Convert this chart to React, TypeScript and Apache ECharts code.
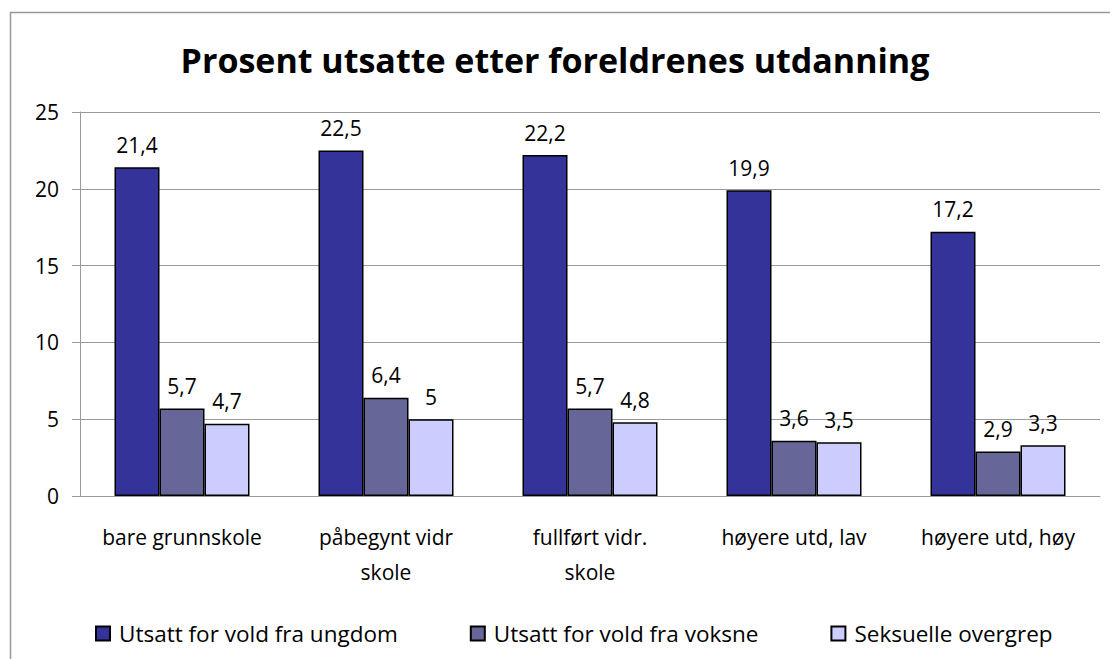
import React, { useEffect, useRef } from "react";
import * as echarts from "echarts";

const categories = ["bare grunnskole", "påbegynt vidr skole", "fullført vidr. skole", "høyere utd, lav", "høyere utd, høy"];
const seriesNames = ["Utsatt for vold fra ungdom", "Utsatt for vold fra voksne", "Seksuelle overgrep"];
const ungdom = [21.4, 22.5, 22.2, 19.9, 17.2];
const voksne = [5.7, 6.4, 5.7, 3.6, 2.9];
const overgrep = [4.7, 5, 4.8, 3.5, 3.3];
const colors = ["#333399", "#666699", "#CCCCFF"];
const FONT = "'Open Sans', Lato, sans-serif";

// wrap long category names at their last space, like the original chart does
const wrapLabel = (s: string) => {
  if (s.length <= 16) return s;
  const i = s.lastIndexOf(" ");
  return i > 0 ? s.slice(0, i) + "\n" + s.slice(i + 1) : s;
};

export default function App() {
  const ref = useRef<HTMLDivElement>(null);
  useEffect(() => {
    const chart = echarts.init(ref.current!, null, { renderer: "svg" });
    const values = [ungdom, voksne, overgrep];
    chart.setOption({
      animation: false,
      title: {
        text: "Prosent utsatte etter foreldrenes utdanning",
        left: "center",
        top: 38,
        textStyle: { fontFamily: FONT, fontWeight: "bold", fontSize: 34, color: "#000" },
      },
      graphic: [
        {
          type: "rect",
          shape: { x: 10.5, y: 12.5, width: 1200, height: 800 },
          style: { fill: "none", stroke: "#999", lineWidth: 1.5 },
          silent: true,
        },
      ],
      legend: {
        bottom: 9,
        left: 90,
        itemWidth: 14,
        itemHeight: 14,
        itemGap: 72,
        icon: "rect",
        textStyle: { fontFamily: FONT, fontSize: 22.5, color: "#000", padding: [0, 0, 0, 4] },
        data: seriesNames,
      },
      grid: { left: 80, right: 10, top: 112, bottom: 163, containLabel: false },
      xAxis: {
        type: "category",
        data: categories,
        axisLine: { lineStyle: { color: "#999" } },
        axisTick: { length: 7, lineStyle: { color: "#999" } },
        axisLabel: {
          fontFamily: FONT,
          fontSize: 21,
          color: "#000",
          margin: 23,
          lineHeight: 35,
          interval: 0,
          formatter: (v: string) => wrapLabel(v),
        },
      },
      yAxis: {
        type: "value",
        min: 0,
        max: 25,
        interval: 5,
        axisLine: { show: true, lineStyle: { color: "#999" } },
        axisTick: { show: true, length: 8, lineStyle: { color: "#999" } },
        splitLine: { lineStyle: { color: "#999" } },
        axisLabel: { fontFamily: FONT, fontSize: 21, color: "#000", margin: 21 },
      },
      series: seriesNames.map((name, i) => ({
        name,
        type: "bar",
        data: values[i],
        barWidth: 45,
        barGap: "0%",
        itemStyle: { color: colors[i], borderColor: "#000", borderWidth: 1.5 },
        label: {
          show: true,
          position: "top",
          distance: 12,
          fontFamily: FONT,
          fontSize: 21,
          color: "#000",
          formatter: (p: any) => String(p.value).replace(".", ","),
        },
      })),
    });
    return () => chart.dispose();
  }, []);
  return (
    <div
      ref={ref}
      style={{ position: "absolute", left: 0, top: 0, width: 1110, height: 659, background: "#fff" }}
    />
  );
}
